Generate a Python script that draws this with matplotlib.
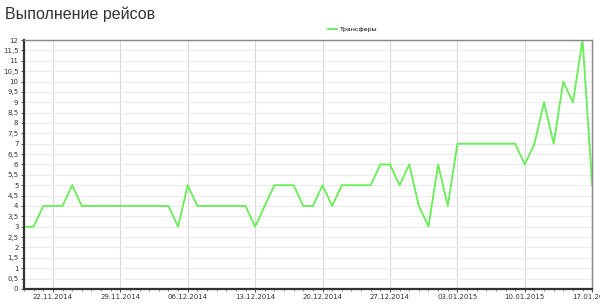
"""Flight execution chart (daily transfers)."""
import datetime as dt

import matplotlib
matplotlib.use("Agg")
import matplotlib.pyplot as plt
import matplotlib.dates as mdates
from matplotlib.ticker import MultipleLocator, FuncFormatter

start = dt.date(2014, 11, 19)
transfers = [
    3, 3, 4, 4, 4, 5, 4, 4, 4, 4, 4, 4,            # 19.11 - 30.11
    4, 4, 4, 4, 3, 5, 4, 4, 4, 4, 4, 4, 3, 4, 5, 5,  # 01.12 - 16.12
    5, 4, 4, 5, 4, 5, 5, 5, 5, 6, 6, 5, 6, 4, 3,     # 17.12 - 31.12
    6, 4, 7, 7, 7, 7, 7, 7, 7, 6, 7, 9, 7, 10, 9, 12, 5,  # 01.01 - 17.01
]
days = [start + dt.timedelta(days=i) for i in range(len(transfers))]
week_ticks = [dt.date(2014, 11, 22) + dt.timedelta(days=7 * k) for k in range(9)]

GREEN = "#66ee55"

fig = plt.figure(figsize=(6, 3.08), dpi=100)
ax = fig.add_axes([0.04, 0.062, 0.947, 0.808])

ax.plot(days, transfers, color=GREEN, lw=1.3, label="Трансферы")

ax.set_xlim(days[0], days[-1])
ax.set_ylim(0, 12)
ax.yaxis.set_major_locator(MultipleLocator(0.5))
ax.yaxis.set_major_formatter(FuncFormatter(lambda v, _: f"{v:g}".replace(".", ",")))
ax.set_xticks(week_ticks)
ax.xaxis.set_major_formatter(mdates.DateFormatter("%d.%m.%Y"))
ax.xaxis.set_minor_locator(mdates.DayLocator())

ax.grid(axis="y", color="#ececec", lw=0.8)
ax.grid(axis="x", color="#d8d8d8", lw=0.8)
ax.set_axisbelow(True)

ax.tick_params(axis="both", labelsize=5, colors="#333333", length=2, width=0.6, pad=2)
ax.tick_params(axis="x", which="minor", length=1.5, width=0.5, colors="#555555")
for side in ("left", "bottom"):
    ax.spines[side].set_color("#333333")
    ax.spines[side].set_linewidth(1.6)
for side in ("top", "right"):
    ax.spines[side].set_color("#888888")
    ax.spines[side].set_linewidth(1.0)

fig.text(0.008, 0.955, "Выполнение рейсов", fontsize=11.5, color="#333333",
         family="Liberation Sans", va="center", ha="left")
fig.legend(loc="center", bbox_to_anchor=(0.588, 0.905), fontsize=4.5, frameon=False,
           handlelength=1.5, handletextpad=0.4)

fig.savefig("out.png", dpi=100)
